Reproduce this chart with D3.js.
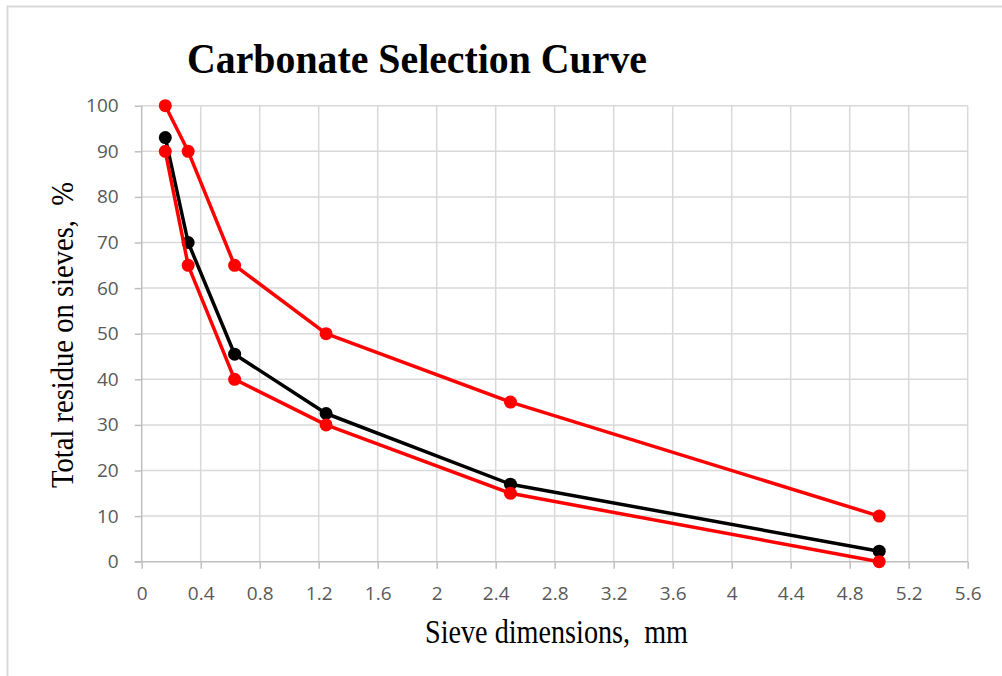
<!DOCTYPE html>
<html>
<head>
<meta charset="utf-8">
<script src="https://cdn.jsdelivr.net/npm/d3@7"></script>
<style>
  html, body { margin: 0; padding: 0; background: #fff; }
  svg { display: block; }
</style>
</head>
<body>
<svg id="chart" width="1002" height="676"></svg>
<script>
const sieveSizes = [0.16, 0.315, 0.63, 1.25, 2.5, 5];
const carbonateCurve = [93, 70, 45.5, 32.5, 17, 2.3];
const upperLimit = [100, 90, 65, 50, 35, 10];
const lowerLimit = [90, 65, 40, 30, 15, 0];
const xTicks = [0, 0.4, 0.8, 1.2, 1.6, 2, 2.4, 2.8, 3.2, 3.6, 4, 4.4, 4.8, 5.2, 5.6];
const yTicks = [0, 10, 20, 30, 40, 50, 60, 70, 80, 90, 100];
const seriesList = [
  { name: "Carbonate", values: carbonateCurve, color: "#000000" },
  { name: "Upper limit", values: upperLimit, color: "#ff0000" },
  { name: "Lower limit", values: lowerLimit, color: "#ff0000" }
];

const svg = d3.select("#chart");
const x = d3.scaleLinear().domain([0, 5.6]).range([141.7, 967.7]);
const y = d3.scaleLinear().domain([0, 100]).range([561.7, 105.7]);

// outer frame
svg.append("path")
  .attr("d", "M7.5,690 L7.5,6.5 L1010,6.5")
  .attr("fill", "none").attr("stroke", "#d9d9d9").attr("stroke-width", 2);

// gridlines
svg.append("g").selectAll("line.v").data(xTicks.slice(1)).join("line")
  .attr("x1", d => x(d)).attr("x2", d => x(d))
  .attr("y1", y(0)).attr("y2", y(100))
  .attr("stroke", "#d9d9d9").attr("stroke-width", 1.5);
svg.append("g").selectAll("line.h").data(yTicks.slice(1)).join("line")
  .attr("x1", x(0)).attr("x2", x(5.6))
  .attr("y1", d => y(d)).attr("y2", d => y(d))
  .attr("stroke", "#d9d9d9").attr("stroke-width", 1.5);

// axes
const xAxis = d3.axisBottom(x).tickValues(xTicks).tickSize(7).tickPadding(18)
  .tickFormat(d => d3.format("~g")(d));
const gx = svg.append("g").attr("transform", `translate(0,${y(0)})`).call(xAxis);
const yAxis = d3.axisLeft(y).tickValues(yTicks).tickSize(7).tickPadding(16);
const gy = svg.append("g").attr("transform", `translate(${x(0)},0)`).call(yAxis);
[gx, gy].forEach(g => {
  g.select(".domain").attr("stroke", "#bfbfbf").attr("stroke-width", 1.5);
  g.selectAll(".tick line").attr("stroke", "#bfbfbf").attr("stroke-width", 1.5);
  g.selectAll(".tick text").attr("fill", "#595959")
    .style("font-family", "'Open Sans', 'Noto Sans', sans-serif").style("font-size", "19px");
});
gy.select(".domain").attr("stroke", "none");
gy.append("line").attr("x1", 0).attr("x2", 0).attr("y1", y(100)).attr("y2", y(0))
  .attr("stroke", "#bfbfbf").attr("stroke-width", 1.5);
gx.select(".domain").attr("d", `M${x(0) - 7},0H${x(5.6)}`);

// series
const line = d3.line().x((d, i) => x(sieveSizes[i])).y(d => y(d));
seriesList.forEach(s => {
  const g = svg.append("g");
  g.append("path").datum(s.values).attr("d", line)
    .attr("fill", "none").attr("stroke", s.color).attr("stroke-width", 3.5)
    .attr("stroke-linejoin", "round");
  g.selectAll("circle").data(s.values).join("circle")
    .attr("cx", (d, i) => x(sieveSizes[i])).attr("cy", d => y(d))
    .attr("r", 6.5).attr("fill", s.color);
});

// title
svg.append("text").attr("x", 187).attr("y", 73)
  .style("font-family", "'Liberation Serif', 'Times New Roman', serif")
  .style("font-weight", "bold").style("font-size", "43px")
  .attr("textLength", 460).attr("lengthAdjust", "spacingAndGlyphs")
  .text("Carbonate Selection Curve");

// axis titles
svg.append("text").attr("x", 425).attr("y", 643)
  .style("font-family", "'Liberation Serif', 'Times New Roman', serif")
  .style("font-size", "33px").attr("fill", "#000").style("white-space", "pre")
  .attr("textLength", 263).attr("lengthAdjust", "spacingAndGlyphs")
  .text("Sieve dimensions,  mm");
svg.append("text").attr("transform", "translate(73,488) rotate(-90)")
  .style("font-family", "'Liberation Serif', 'Times New Roman', serif")
  .style("font-size", "32px").attr("fill", "#000").style("white-space", "pre")
  .attr("textLength", 306).attr("lengthAdjust", "spacingAndGlyphs")
  .text("Total residue on sieves,  %");
</script>
</body>
</html>
